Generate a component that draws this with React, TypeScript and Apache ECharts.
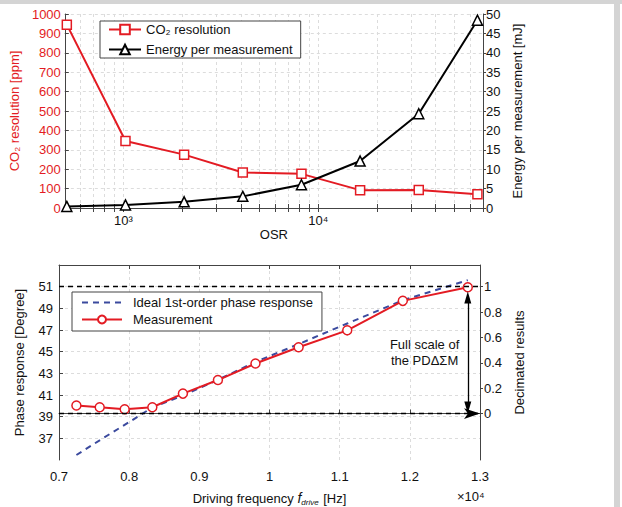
import React, { useEffect, useRef } from 'react';
import * as echarts from 'echarts';

// ---- Top chart data ----
const osr = [512, 1024, 2048, 4096, 8192, 16384, 32768, 65536];
const co2Resolution = [945, 345, 275, 183, 176, 92, 93, 71];
const energyPerMeasurement = [0.4, 0.8, 1.6, 3.0, 6.0, 12.1, 24.3, 48.4];
const osrMinorTicks = [600, 700, 800, 900, 1000, 2000, 3000, 4000, 5000, 6000, 7000, 8000, 9000, 10000, 20000, 30000, 40000, 50000, 60000, 70000];
const osrLabelTicks = [1000, 10000];

// ---- Bottom chart data (frequency in units of 10^4 Hz) ----
const freqMeas = [0.7248, 0.758, 0.7936, 0.833, 0.8766, 0.9265, 0.98, 1.0415, 1.1108, 1.19, 1.2826];
const phaseMeas = [40.03, 39.87, 39.69, 39.87, 41.13, 42.38, 43.91, 45.41, 46.97, 49.69, 50.95];
const freqIdeal = [0.7248, 0.76, 0.8, 0.833, 0.8766, 0.9265, 0.98, 1.0415, 1.1108, 1.19, 1.2826];
const phaseIdeal = [35.46, 36.9, 38.5, 39.85, 40.95, 42.4, 44.05, 45.7, 47.6, 49.75, 51.6];
const phaseTicks = [37, 39, 41, 43, 45, 47, 49, 51];
const decimatedTicks = [0, 0.2, 0.4, 0.6, 0.8, 1];
const fullScaleTop = 51;
const fullScaleZero = 0;

const RED = '#e31b23';
const BLUE = '#3b4a9e';
const AXIS = '#444';
const GRIDC = '#dcdcdc';
const FONT = 'Liberation Sans, Arial, sans-serif';

export default function App() {
  const ref = useRef<HTMLDivElement>(null);
  useEffect(() => {
    if (!ref.current) return;
    const chart = echarts.init(ref.current, undefined, { renderer: 'svg' });
    const axisLine = { show: true, lineStyle: { color: AXIS, width: 1 } };
    const dashedSplit = { show: true, lineStyle: { color: GRIDC, type: [3, 3], width: 1 } };
    const label = { color: '#111', fontSize: 13, fontFamily: FONT };
    const lastF = freqMeas[freqMeas.length - 1];

    const option: any = {
      animation: false,
      backgroundColor: '#fff',
      textStyle: { fontFamily: FONT },
      grid: [
        { left: 61, top: 14, width: 422, height: 194 },
        { left: 59, top: 265, width: 421, height: 196 },
      ],
      xAxis: [
        {
          type: 'log', gridIndex: 0, min: 500, max: 70000, position: 'bottom',
          axisLine,
          axisTick: { show: true, inside: true, length: 4, lineStyle: { color: AXIS }, customValues: osrMinorTicks },
          axisLabel: { ...label, margin: 6, customValues: osrLabelTicks, formatter: (v: number) => (v === 1000 ? '10³' : v === 10000 ? '10⁴' : '') },
          splitLine: { ...dashedSplit, customValues: osrMinorTicks },
          name: 'OSR', nameLocation: 'middle', nameGap: 14,
          nameTextStyle: { color: '#111', fontSize: 13, fontFamily: FONT },
        },
        {
          type: 'log', gridIndex: 0, min: 500, max: 70000, position: 'top',
          axisLine,
          axisTick: { show: true, inside: true, length: 4, lineStyle: { color: AXIS }, customValues: osrMinorTicks },
          axisLabel: { show: false },
          splitLine: { show: false },
        },
        {
          type: 'value', gridIndex: 1, min: 0.7, max: 1.3, interval: 0.1, position: 'bottom',
          axisLine,
          axisTick: { show: true, inside: true, length: 4, lineStyle: { color: AXIS } },
          axisLabel: { ...label, margin: 10, formatter: (v: number) => String(Math.round(v * 10) / 10) },
          splitLine: dashedSplit,
          name: 'Driving frequency {i|f}{sub|drive} [Hz]', nameLocation: 'middle', nameGap: 30,
          nameTextStyle: {
            color: '#111', fontSize: 13, fontFamily: FONT,
            rich: {
              i: { fontStyle: 'italic', fontSize: 14, color: '#111', fontFamily: FONT },
              sub: { fontStyle: 'italic', fontSize: 8, color: '#111', fontFamily: FONT, padding: [8, 1, 0, 0] },
            },
          },
        },
        {
          type: 'value', gridIndex: 1, min: 0.7, max: 1.3, interval: 0.1, position: 'top',
          axisLine,
          axisTick: { show: true, inside: true, length: 4, lineStyle: { color: AXIS } },
          axisLabel: { show: false },
          splitLine: { show: false },
        },
      ],
      yAxis: [
        {
          type: 'value', gridIndex: 0, min: 0, max: 1000, interval: 100, position: 'left',
          axisLine,
          axisTick: { show: true, inside: true, length: 4, lineStyle: { color: AXIS } },
          axisLabel: { ...label, color: RED, margin: 4, formatter: (v: number) => String(v) },
          splitLine: dashedSplit,
          name: 'CO₂ resolution [ppm]', nameLocation: 'middle', nameGap: 37,
          nameTextStyle: { color: RED, fontSize: 13, fontFamily: FONT },
        },
        {
          type: 'value', gridIndex: 0, min: 0, max: 50, interval: 5, position: 'right',
          axisLine,
          axisTick: { show: true, inside: false, length: 3, lineStyle: { color: AXIS } },
          axisLabel: { ...label, margin: 3 },
          splitLine: { show: false },
          name: 'Energy per measurement [mJ]', nameLocation: 'middle', nameGap: 21,
          nameTextStyle: { color: '#111', fontSize: 13, fontFamily: FONT },
        },
        {
          type: 'value', gridIndex: 1, min: 35, max: 53, interval: 2, position: 'left',
          axisLine,
          axisTick: { show: true, inside: true, length: 4, lineStyle: { color: AXIS }, customValues: phaseTicks },
          axisLabel: { ...label, margin: 6, customValues: phaseTicks },
          splitLine: { ...dashedSplit, customValues: phaseTicks },
          name: 'Phase response [Degree]', nameLocation: 'middle', nameGap: 33,
          nameTextStyle: { color: '#111', fontSize: 13, fontFamily: FONT },
        },
        {
          type: 'value', gridIndex: 1, min: -0.366, max: 1.171, position: 'right',
          axisLine,
          axisTick: { show: true, inside: false, length: 3, lineStyle: { color: AXIS }, customValues: decimatedTicks },
          axisLabel: { ...label, margin: 4, customValues: decimatedTicks, formatter: (v: number) => String(v) },
          splitLine: { show: false },
          name: 'Decimated results', nameLocation: 'middle', nameGap: 25,
          nameTextStyle: { color: '#111', fontSize: 13, fontFamily: FONT },
        },
      ],
      legend: [
        {
          left: 100, top: 21, orient: 'vertical', padding: [2, 8, 2, 8], itemGap: 7,
          itemWidth: 32, itemHeight: 12, borderColor: AXIS, borderWidth: 1, backgroundColor: '#fff',
          data: ['CO₂ resolution', 'Energy per measurement'],
          textStyle: { color: '#111', fontSize: 13, fontFamily: FONT },
        },
        {
          left: 72, top: 292, orient: 'vertical', padding: [4, 9, 5, 9], itemGap: 4,
          itemWidth: 40, itemHeight: 10, borderColor: AXIS, borderWidth: 1, backgroundColor: '#fff',
          data: [
            { name: 'Ideal 1st-order phase response', itemStyle: { color: 'rgba(0,0,0,0)', borderColor: 'rgba(0,0,0,0)', borderWidth: 0 } },
            'Measurement',
          ],
          textStyle: { color: '#111', fontSize: 13, fontFamily: FONT, padding: [0, 0, 0, 6] },
        },
      ],
      series: [
        {
          name: 'CO₂ resolution', type: 'line', xAxisIndex: 0, yAxisIndex: 0,
          data: osr.map((x, i) => [x, co2Resolution[i]]),
          symbol: 'rect', symbolSize: 9,
          itemStyle: { color: '#fff', borderColor: RED, borderWidth: 1.5 },
          lineStyle: { color: RED, width: 2 }, color: RED,
        },
        {
          name: 'Energy per measurement', type: 'line', xAxisIndex: 0, yAxisIndex: 1,
          data: osr.map((x, i) => [x, energyPerMeasurement[i]]),
          symbol: 'triangle', symbolSize: 10,
          itemStyle: { color: '#fff', borderColor: '#000', borderWidth: 1.5 },
          lineStyle: { color: '#000', width: 2 }, color: '#000',
        },
        {
          name: 'Ideal 1st-order phase response', type: 'line', xAxisIndex: 2, yAxisIndex: 2,
          data: freqIdeal.map((x, i) => [x, phaseIdeal[i]]),
          showSymbol: false, symbol: 'none', color: BLUE,
          lineStyle: { color: BLUE, width: 2, type: [6, 5] },
          markLine: {
            silent: true, symbol: 'none', label: { show: false },
            lineStyle: { color: '#000', type: [5, 4], width: 1.3 },
            data: [{ yAxis: fullScaleTop }],
          },
        },
        {
          name: 'Measurement', type: 'line', xAxisIndex: 2, yAxisIndex: 2,
          data: freqMeas.map((x, i) => [x, phaseMeas[i]]),
          symbol: 'circle', symbolSize: 9, color: RED,
          itemStyle: { color: '#fff', borderColor: RED, borderWidth: 1.5 },
          lineStyle: { color: RED, width: 2 },
        },
        {
          name: 'decimated', type: 'line', xAxisIndex: 2, yAxisIndex: 3,
          data: [[lastF, fullScaleZero]],
          showSymbol: false, symbol: 'none', lineStyle: { opacity: 0 },
          markLine: {
            silent: true, label: { show: false },
            data: [
              { yAxis: fullScaleZero, symbol: 'none', lineStyle: { color: '#000', type: [5, 4], width: 1.3 } },
              [
                { coord: [lastF, 0.047], symbol: 'triangle', symbolSize: [7, 12], lineStyle: { color: '#000', type: 'solid', width: 1.3 } },
                { coord: [lastF, 0.914], symbol: 'triangle', symbolSize: [7, 12] },
              ],
            ],
            itemStyle: { color: '#000' },
          },
          markPoint: {
            silent: true, symbol: 'circle', symbolSize: 1,
            itemStyle: { color: 'rgba(0,0,0,0)' },
            data: [{ coord: [1.221, 0.48], value: 0 }],
            label: {
              show: true, position: 'inside', color: '#111', fontSize: 13, fontFamily: FONT, lineHeight: 16,
              align: 'center', formatter: 'Full scale of\nthe PDΔΣM',
            },
          },
        },
      ],
      graphic: [
        { type: 'rect', left: 0, top: 0, shape: { width: 622, height: 4 }, style: { fill: '#d4d4d4' }, silent: true },
        { type: 'rect', left: 614, top: 0, shape: { width: 6, height: 507 }, style: { fill: '#d4d4d4' }, silent: true },
        { type: 'text', left: 457, top: 490, style: { text: '×10⁴', fill: '#111', fontSize: 13, fontFamily: FONT } },
      ],
    };
    chart.setOption(option);
    return () => chart.dispose();
  }, []);
  return <div ref={ref} style={{ position: 'absolute', left: 0, top: 0, width: 622, height: 507 }} />;
}
